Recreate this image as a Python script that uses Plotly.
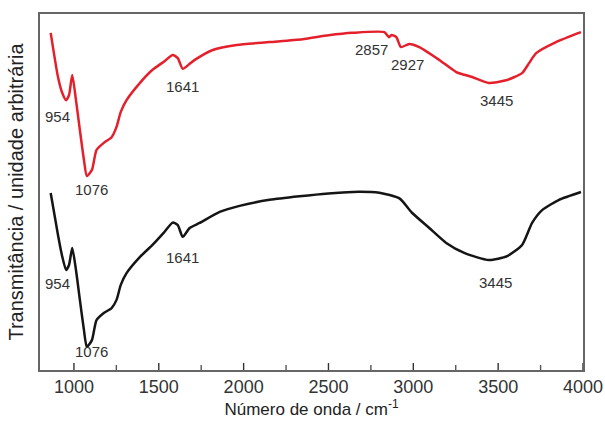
import plotly.graph_objects as go

# FTIR spectra (arbitrary transmittance units, curves offset vertically)
wn_red = [863, 906, 929, 954, 971, 990, 1012, 1035, 1059, 1076, 1106, 1133, 1176, 1222,
          1251, 1276, 1310, 1388, 1465, 1530, 1582, 1612, 1641, 1682, 1712, 1818, 1959,
          2153, 2347, 2500, 2641, 2829, 2857, 2871, 2900, 2927, 2976, 3035, 3153,
          3253, 3347, 3445, 3540, 3641, 3682, 3724, 3841, 3988]
t_red = [94.7, 82.3, 78.1, 75.8, 77.2, 82.9, 75.8, 67.4, 59.0, 54.5, 56.2, 61.8, 63.8, 65.4,
         68.3, 72.5, 75.8, 80.6, 84.4, 86.6, 88.5, 87.6, 84.6, 86.0, 87.1, 89.9, 91.3,
         92.1, 92.9, 94.0, 94.7, 94.9, 93.5, 94.1, 93.5, 90.7, 91.6, 90.7, 87.1,
         83.7, 82.3, 80.6, 81.3, 83.4, 86.2, 89.0, 92.1, 94.9]

wn_black = [863, 906, 929, 954, 971, 990, 1012, 1035, 1059, 1076, 1106, 1133, 1176, 1222,
            1251, 1276, 1310, 1388, 1460, 1530, 1582, 1612, 1641, 1682, 1741, 1859, 1976,
            2153, 2329, 2500, 2680, 2800, 2918, 2994, 3094, 3194, 3300, 3445, 3553, 3641,
            3700, 3759, 3859, 3988]
t_black = [49.7, 37.9, 32.3, 28.1, 29.5, 34.3, 28.1, 19.7, 11.2, 6.5, 8.4, 14.0, 16.0, 17.4,
           19.7, 23.9, 27.2, 31.7, 35.0, 38.6, 41.4, 40.7, 37.4, 39.9, 41.3, 44.4, 46.1,
           47.8, 48.8, 49.6, 50.1, 49.8, 48.2, 44.1, 39.9, 35.7, 32.9, 30.9, 32.0, 35.1,
           41.3, 44.9, 47.8, 50.0]

# band labels: text, label x (cm-1), label y
labels_red = ["954", "1076", "1641", "2857", "2927", "3445"]
lab_red_x = [906, 1106, 1641, 2753, 2965, 3488]
lab_red_y = [71.1, 50.6, 79.5, 89.9, 85.7, 75.8]

labels_black = ["954", "1076", "1641", "3445"]
lab_black_x = [906, 1106, 1641, 3482]
lab_black_y = [24.2, 5.1, 31.7, 24.7]

x_ticks = [1000, 1500, 2000, 2500, 3000, 3500, 4000]
x_minor = [1250, 1750, 2250, 2750, 3250, 3750]

fig = go.Figure()
fig.add_trace(go.Scatter(x=wn_red, y=t_red, mode="lines",
                         line=dict(color="#e3202b", width=2.5, shape="spline", smoothing=0.6),
                         hoverinfo="skip"))
fig.add_trace(go.Scatter(x=wn_black, y=t_black, mode="lines",
                         line=dict(color="#151515", width=2.5, shape="spline", smoothing=0.6),
                         hoverinfo="skip"))

annotations = []
for txt, x, y in list(zip(labels_red, lab_red_x, lab_red_y)) + list(zip(labels_black, lab_black_x, lab_black_y)):
    annotations.append(dict(x=x, y=y, text=txt, showarrow=False,
                            font=dict(family="Liberation Sans, Arial", size=15, color="#333333")))

# inward tick marks on the bottom axis (pixel length, anchored at the axis line)
shapes = []
for v, length, col in [(t, 7, "#333333") for t in x_ticks] + [(t, 5, "#555555") for t in x_minor]:
    shapes.append(dict(type="line", xref="x", yref="paper", ysizemode="pixel", yanchor=0,
                       x0=v, x1=v, y0=0, y1=length, layer="above",
                       line=dict(color=col, width=1.4)))

fig.update_layout(
    width=605, height=421,
    margin=dict(l=40, r=22, t=14, b=51),
    paper_bgcolor="white", plot_bgcolor="white",
    showlegend=False,
    font=dict(family="Liberation Sans, Arial", color="#333333"),
    annotations=annotations,
    shapes=shapes,
    xaxis=dict(
        range=[800, 4000], tickmode="array", tickvals=x_ticks, ticks="",
        showline=True, mirror=True, linecolor="#666666", linewidth=1.5,
        showgrid=False, zeroline=False, automargin=False,
        tickfont=dict(size=18, color="#333333"),
        title=dict(text="Número de onda / cm<sup>-1</sup>", font=dict(size=17, color="#222222"),
                   standoff=6),
    ),
    yaxis=dict(
        range=[0, 100], showticklabels=False, ticks="",
        showline=True, mirror=True, linecolor="#666666", linewidth=1.5,
        showgrid=False, zeroline=False, automargin=False,
        title=dict(text="Transmitância / unidade arbitrária", font=dict(size=20, color="#222222"),
                   standoff=9),
    ),
)

fig.write_html("out.html")
